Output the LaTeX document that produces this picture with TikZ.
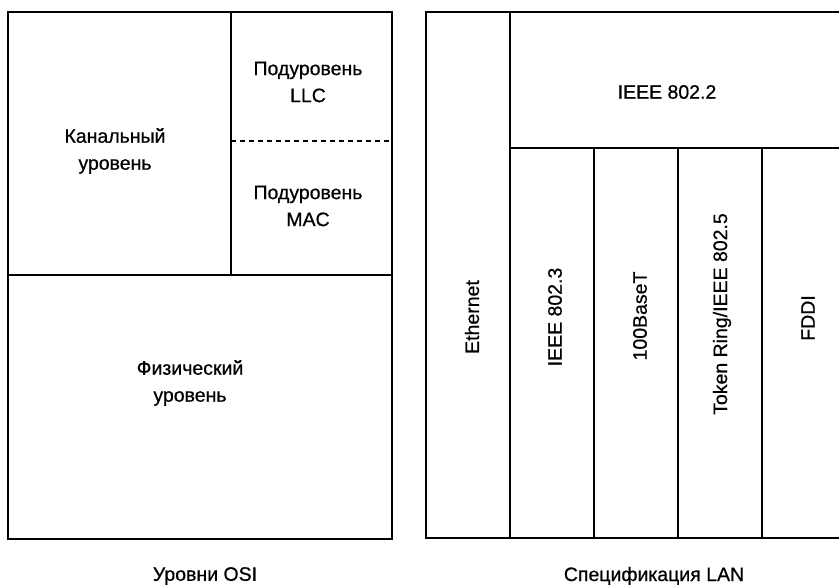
\documentclass[tikz,border=0pt]{standalone}
\usepackage{fontspec}
\setmainfont{Liberation Sans}
\newfontfamily\lblfont{Liberation Sans}[FakeBold=0.6]
\begin{document}
\begin{tikzpicture}[x=1pt,y=-1pt,
  frame/.style={line width=1.4pt, line cap=rect},
  lbl/.style={align=center, inner sep=0pt, font=\lblfont\fontsize{19.5}{27}\selectfont},
  vlbl/.style={lbl, rotate=90}]
\useasboundingbox (0,0) rectangle (839,585);
\fill[white] (0,0) rectangle (839,585);
\begin{scope}
\clip (0,0) rectangle (839,585);
% left: OSI levels
\draw[frame] (8,12) rectangle (392,539);
\draw[frame] (231,12) -- (231,275);
\draw[frame] (8,275) -- (392,275);
\draw[line width=1.1pt, dash pattern=on 5pt off 4pt] (231,141) -- (392,141);
% right: LAN specification
\draw[frame] (850,12) -- (426,12) -- (426,538) -- (850,538);
\draw[frame] (510,12) -- (510,538);
\draw[frame] (510,148) -- (850,148);
\draw[frame] (594,148) -- (594,538);
\draw[frame] (678,148) -- (678,538);
\draw[frame] (762,148) -- (762,538);
\end{scope}
% labels
\node[lbl] (dl) at (115,151) {Канальный\\уровень};
\node[lbl] (llc) at (308,82) {Подуровень\\LLC};
\node[lbl] (mac) at (308,206) {Подуровень\\MAC};
\node[lbl] (phy) at (190,383) {Физический\\уровень};
\node[lbl] (i8022) at (667,92) {IEEE 802.2};
\node[vlbl] (eth) at (472,317) {Ethernet};
\node[vlbl] (i8023) at (555,317) {IEEE 802.3};
\node[vlbl] (b100) at (640,316) {100BaseT};
\node[vlbl] (tr) at (722,314) {Token Ring/IEEE 802.5};
\node[vlbl] (fddi) at (808,318) {FDDI};
\node[lbl] (cosi) at (205,576) {Уровни OSI};
\node[lbl] (clan) at (654,576) {Спецификация LAN};
\end{tikzpicture}
\end{document}
